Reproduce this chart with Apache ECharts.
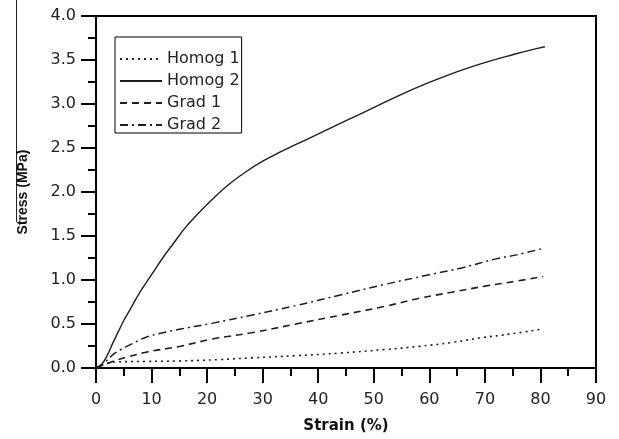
<!DOCTYPE html>
<html>
<head>
<meta charset="utf-8">
<script src="https://cdn.jsdelivr.net/npm/echarts@6/dist/echarts.min.js"></script>
<style>
  html, body { margin: 0; padding: 0; background: #fff; }
  #chart { width: 619px; height: 439px; }
</style>
</head>
<body>
<div id="chart"></div>
<script>
// values (strain %, stress MPa)
var homog1Strain = [0, 2, 4, 9, 15, 22, 28, 36, 44, 52, 58, 64, 69, 75, 80.5];
var homog1Stress = [0, 0.05, 0.07, 0.075, 0.08, 0.095, 0.115, 0.14, 0.17, 0.21, 0.245, 0.29, 0.34, 0.39, 0.445];

var homog2Strain = [0, 1, 2, 3, 4, 5, 6, 8, 10, 12, 14, 16, 18, 21, 24, 27, 30, 33, 36, 39, 42, 45, 48, 51, 55, 59, 63, 67, 71, 75, 78, 80.8];
var homog2Stress = [0, 0.04, 0.14, 0.28, 0.41, 0.54, 0.65, 0.87, 1.06, 1.25, 1.42, 1.59, 1.73, 1.92, 2.09, 2.23, 2.35, 2.45, 2.54, 2.63, 2.72, 2.81, 2.90, 2.99, 3.11, 3.22, 3.32, 3.41, 3.49, 3.56, 3.61, 3.65];

var grad1Strain = [0, 3, 6, 9, 15, 21, 28, 36, 44, 52, 58, 64, 70, 76, 80.5];
var grad1Stress = [0, 0.075, 0.13, 0.18, 0.245, 0.33, 0.40, 0.50, 0.60, 0.70, 0.79, 0.86, 0.93, 0.99, 1.04];

var grad2Strain = [0, 1.5, 3, 4.5, 6, 9, 12, 15, 21, 28, 36, 44, 52, 60, 66, 72, 76, 80.5];
var grad2Stress = [0, 0.06, 0.15, 0.21, 0.26, 0.35, 0.40, 0.44, 0.51, 0.60, 0.71, 0.83, 0.95, 1.06, 1.14, 1.24, 1.29, 1.36];

var seriesNames = ['Homog 1', 'Homog 2', 'Grad 1', 'Grad 2'];

var zip = (xs, ys) => xs.map((v, i) => [v, ys[i]]);

var myChart = echarts.init(document.getElementById('chart'));

var lineColor = '#1e1e1e';
var tickFont = 'DejaVu Sans';

var mkSeries = (name, data, dash, width) => ({
	name: name,
	type: 'line',
	data: data,
	showSymbol: false,
	symbol: 'none',
	smooth: 0.4,
	animation: false,
	lineStyle: {
		color: lineColor,
		width: width,
		type: dash
	},
	itemStyle: { color: lineColor }
});

var option = {
	animation: false,
	grid: {
		left: 96,
		right: 23,
		top: 16,
		bottom: 69,
		show: true,
		borderColor: '#000',
		borderWidth: 2
	},
	legend: {
		orient: 'vertical',
		left: 115,
		top: 37,
		data: seriesNames,
		borderColor: '#000',
		borderWidth: 1,
		padding: [14, 2, 0, 4],
		itemWidth: 42,
		itemHeight: 14,
		itemGap: 6,
		selectedMode: false,
		itemStyle: { opacity: 0 },
		textStyle: {
			fontFamily: tickFont,
			fontSize: 16,
			color: '#222'
		}
	},
	xAxis: {
		type: 'value',
		min: 0,
		max: 90,
		interval: 10,
		name: 'Strain (%)',
		nameLocation: 'middle',
		nameGap: 51,
		nameTextStyle: {
			fontFamily: tickFont,
			fontWeight: 'bold',
			fontSize: 15,
			color: '#111'
		},
		axisLine: { lineStyle: { color: '#000', width: 2 } },
		axisTick: { length: 15, lineStyle: { color: '#000', width: 2 } },
		minorTick: { show: true, splitNumber: 2, length: 8, lineStyle: { color: '#000', width: 2 } },
		splitLine: { show: false },
		axisLabel: {
			margin: 24,
			fontFamily: tickFont,
			fontSize: 16,
			color: '#222'
		}
	},
	yAxis: {
		type: 'value',
		min: 0,
		max: 4,
		interval: 0.5,
		name: 'Stress (MPa)',
		nameLocation: 'middle',
		nameRotate: 90,
		nameGap: 66,
		nameTextStyle: {
			fontFamily: 'Liberation Sans',
			fontWeight: 'bold',
			fontSize: 14,
			color: '#111'
		},
		axisLine: { show: true, lineStyle: { color: '#000', width: 2 } },
		axisTick: { show: true, length: 15, lineStyle: { color: '#000', width: 2 } },
		minorTick: { show: true, splitNumber: 2, length: 8, lineStyle: { color: '#000', width: 2 } },
		splitLine: { show: false },
		axisLabel: {
			margin: 20,
			fontFamily: tickFont,
			fontSize: 16,
			color: '#222',
			formatter: (v) => v.toFixed(1)
		}
	},
	graphic: [{
		// thin stray line at the left edge of the scanned figure
		type: 'line',
		shape: { x1: 16.5, y1: 0, x2: 16.5, y2: 222 },
		style: { stroke: '#222', lineWidth: 1 },
		silent: true
	}],
	series: [
		mkSeries('Homog 1', zip(homog1Strain, homog1Stress), [2, 4], 1.6),
		mkSeries('Homog 2', zip(homog2Strain, homog2Stress), 'solid', 1.4),
		mkSeries('Grad 1', zip(grad1Strain, grad1Stress), [7, 5], 1.6),
		mkSeries('Grad 2', zip(grad2Strain, grad2Stress), [8, 4, 2, 4], 1.5)
	]
};

option && myChart.setOption(option, true);
</script>
</body>
</html>
